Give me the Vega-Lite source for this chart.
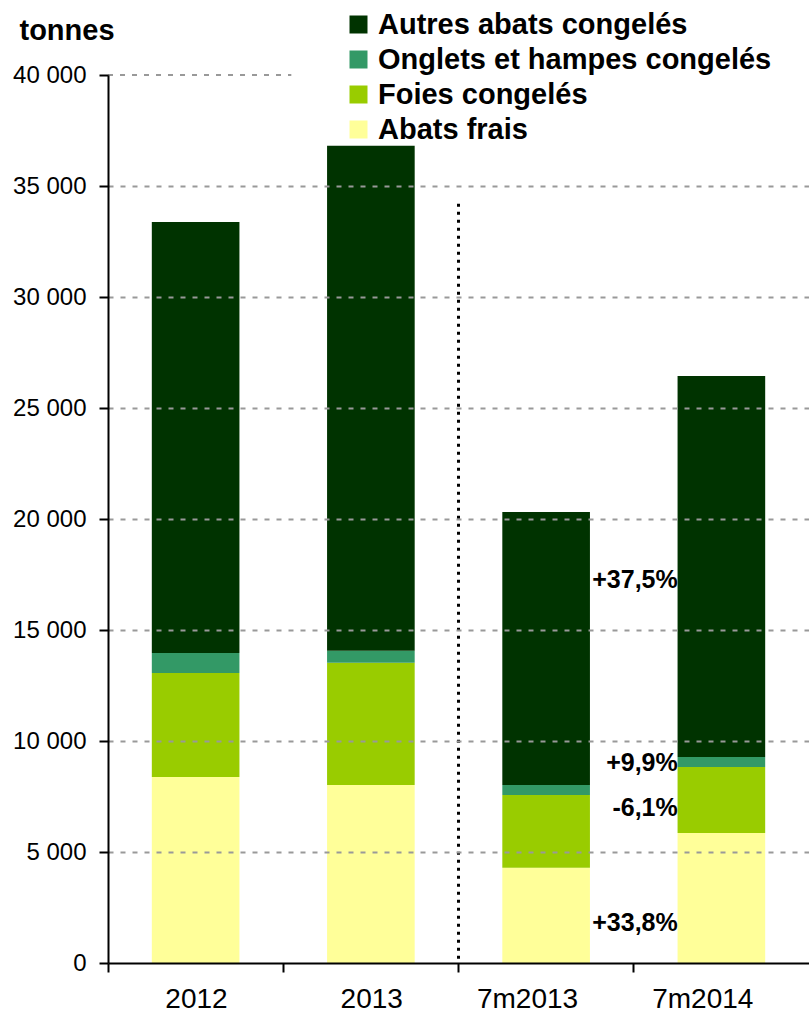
{
  "$schema": "https://vega.github.io/schema/vega-lite/v6.json",
  "autosize": "none",
  "width": 701,
  "height": 888,
  "padding": {"left": 108, "top": 75, "right": 0, "bottom": 52},
  "background": "white",
  "config": {
    "font": "Liberation Sans",
    "view": {"stroke": null}
  },
  "datasets": {
    "bars": [
      {"periode": "2012", "type": "Abats frais", "ordre": 1, "tonnes": 8380},
      {"periode": "2012", "type": "Foies congelés", "ordre": 2, "tonnes": 4680},
      {"periode": "2012", "type": "Onglets et hampes congelés", "ordre": 3, "tonnes": 900},
      {"periode": "2012", "type": "Autres abats congelés", "ordre": 4, "tonnes": 19420},
      {"periode": "2013", "type": "Abats frais", "ordre": 1, "tonnes": 8020},
      {"periode": "2013", "type": "Foies congelés", "ordre": 2, "tonnes": 5500},
      {"periode": "2013", "type": "Onglets et hampes congelés", "ordre": 3, "tonnes": 540},
      {"periode": "2013", "type": "Autres abats congelés", "ordre": 4, "tonnes": 22750},
      {"periode": "7m2013", "type": "Abats frais", "ordre": 1, "tonnes": 4290},
      {"periode": "7m2013", "type": "Foies congelés", "ordre": 2, "tonnes": 3280},
      {"periode": "7m2013", "type": "Onglets et hampes congelés", "ordre": 3, "tonnes": 450},
      {"periode": "7m2013", "type": "Autres abats congelés", "ordre": 4, "tonnes": 12300},
      {"periode": "7m2014", "type": "Abats frais", "ordre": 1, "tonnes": 5860},
      {"periode": "7m2014", "type": "Foies congelés", "ordre": 2, "tonnes": 2970},
      {"periode": "7m2014", "type": "Onglets et hampes congelés", "ordre": 3, "tonnes": 450},
      {"periode": "7m2014", "type": "Autres abats congelés", "ordre": 4, "tonnes": 17160}
    ],
    "labels": [
      {"periode": "7m2014", "texte": "+37,5%", "y": 17250},
      {"periode": "7m2014", "texte": "+9,9%", "y": 9020},
      {"periode": "7m2014", "texte": "-6,1%", "y": 6980},
      {"periode": "7m2014", "texte": "+33,8%", "y": 1815}
    ],
    "topgrid": [
      {"de": "2012", "a": "2013", "y": 40000}
    ],
    "separateur": [
      {"periode": "7m2013", "haut": 34200, "bas": 0}
    ]
  },
  "layer": [
    {
      "data": {"name": "topgrid"},
      "mark": {"type": "rule", "color": "#999999", "strokeWidth": 2, "strokeDash": [5, 7]},
      "encoding": {
        "x": {"field": "de", "type": "nominal", "bandPosition": 0, "scale": {"domain": ["2012", "2013", "7m2013", "7m2014"]}},
        "x2": {"field": "a", "bandPosition": 0.046},
        "y": {"field": "y", "type": "quantitative"}
      }
    },
    {
      "data": {"name": "bars"},
      "mark": {"type": "bar", "width": {"band": 0.5}},
      "encoding": {
        "x": {
          "field": "periode",
          "type": "nominal",
          "sort": null,
          "scale": {"domain": ["2012", "2013", "7m2013", "7m2014"], "paddingInner": 0, "paddingOuter": 0},
          "axis": {
            "title": null,
            "bandPosition": 0,
            "labelOffset": 32,
            "labelFontSize": 28,
            "labelColor": "black",
            "labelPadding": 27,
            "labelAngle": 0,
            "domainColor": "black",
            "domainWidth": 2,
            "tickColor": "black",
            "tickWidth": 2,
            "tickSize": 9,
            "grid": false,
            "zindex": 1
          }
        },
        "y": {
          "field": "tonnes",
          "type": "quantitative",
          "stack": "zero",
          "scale": {"domain": [0, 40000], "nice": false},
          "axis": {
            "title": "tonnes",
            "titleAngle": 0,
            "titleAlign": "left",
            "titleBaseline": "alphabetic",
            "titleX": -89,
            "titleY": -36,
            "titleFontSize": 29,
            "titleFontWeight": "bold",
            "titleColor": "black",
            "values": [0, 5000, 10000, 15000, 20000, 25000, 30000, 35000, 40000],
            "labelExpr": "replace(format(datum.value, ','), ',', ' ')",
            "labelFontSize": 24,
            "labelColor": "black",
            "labelPadding": 13,
            "domainColor": "black",
            "domainWidth": 2,
            "tickColor": "black",
            "tickWidth": 2,
            "tickSize": 9,
            "grid": true,
            "gridColor": "#999999",
            "gridWidth": 2,
            "gridDash": [5, 7],
            "gridOpacity": {"condition": {"test": "datum.value == 40000 || datum.value == 0", "value": 0}, "value": 1},
            "zindex": 1
          }
        },
        "color": {
          "field": "type",
          "type": "nominal",
          "scale": {
            "domain": ["Autres abats congelés", "Onglets et hampes congelés", "Foies congelés", "Abats frais"],
            "range": ["#003300", "#339966", "#99CC00", "#FFFF99"]
          },
          "legend": {
            "title": null,
            "orient": "none",
            "legendX": 236,
            "legendY": -65,
            "symbolType": "square",
            "symbolSize": 324,
            "symbolStrokeWidth": 0,
            "symbolOpacity": 1,
            "labelFontSize": 29,
            "labelFontWeight": "bold",
            "labelColor": "black",
            "labelOffset": 5,
            "rowPadding": 5,
            "labelLimit": 500,
            "padding": 0
          }
        },
        "order": {"field": "ordre", "type": "quantitative"}
      }
    },
    {
      "data": {"name": "separateur"},
      "mark": {"type": "rule", "color": "black", "strokeWidth": 3, "strokeDash": [3, 5]},
      "encoding": {
        "x": {"field": "periode", "type": "nominal", "bandPosition": 0},
        "y": {"field": "haut", "type": "quantitative"},
        "y2": {"field": "bas"}
      }
    },
    {
      "data": {"name": "labels"},
      "mark": {"type": "text", "align": "right", "baseline": "middle", "dx": 44, "fontSize": 25, "fontWeight": "bold", "color": "black"},
      "encoding": {
        "x": {"field": "periode", "type": "nominal", "bandPosition": 0},
        "y": {"field": "y", "type": "quantitative"},
        "text": {"field": "texte"}
      }
    }
  ]
}
